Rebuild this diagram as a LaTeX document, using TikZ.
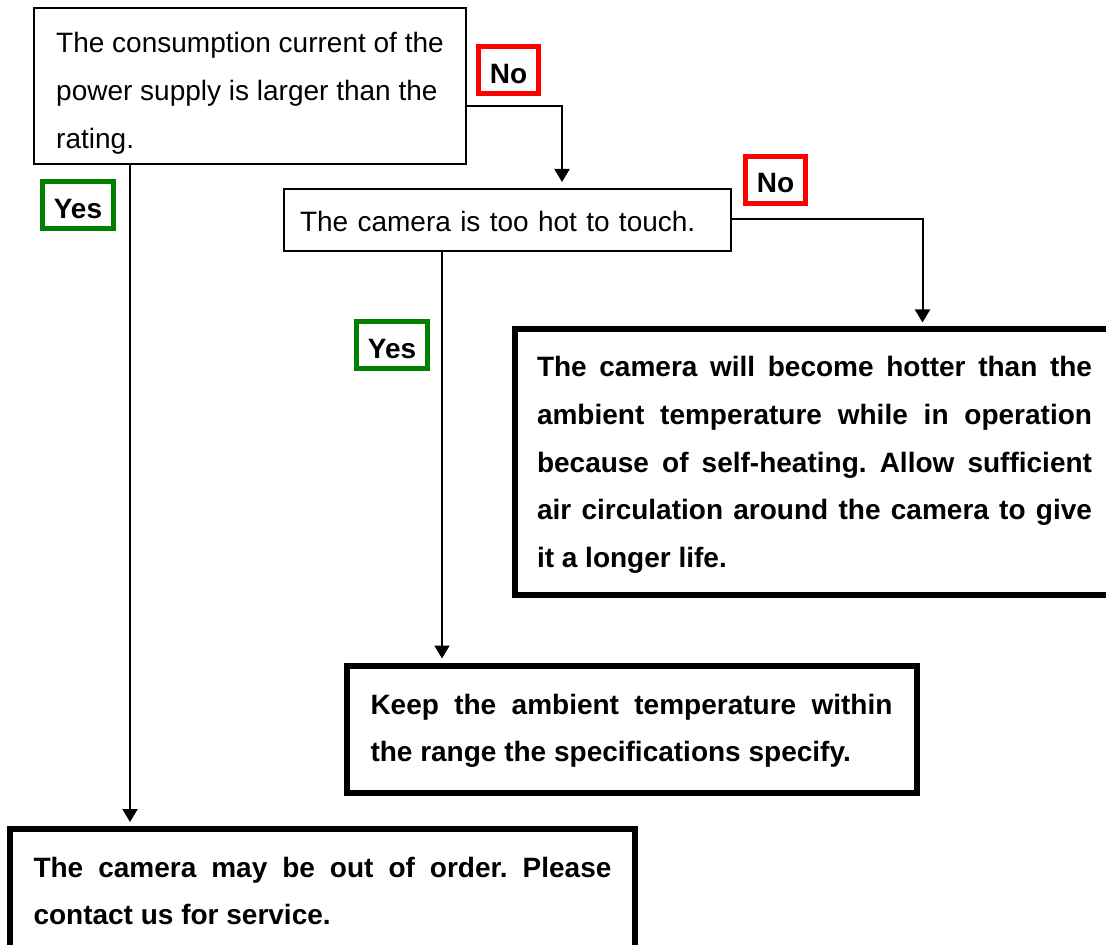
\documentclass[tikz,border=0pt]{standalone}
\usepackage{fontspec}
\setmainfont{Liberation Sans}
\usetikzlibrary{arrows.meta, positioning}

\begin{document}
\begin{tikzpicture}[
    x=0.5pt, y=-0.5pt,
    font=\fontsize{14}{23.8}\selectfont\frenchspacing,
    cond/.style={
        rectangle, draw=black, line width=1pt, anchor=north west,
        align=left, inner ysep=0pt, outer sep=0pt
    },
    advice/.style={
        rectangle, draw=black, line width=3pt, anchor=north west,
        align=justify, inner ysep=0pt, outer sep=0pt,
        font=\fontsize{14}{23.8}\selectfont\frenchspacing\bfseries
    },
    answer/.style={
        rectangle, line width=2.5pt, inner xsep=5.5pt,
        minimum height=23.5pt, text height=13pt, text depth=0pt,
        font=\fontsize{14}{23.8}\selectfont\bfseries
    },
    yesbox/.style={answer, draw=green!50!black},
    nobox/.style={answer, draw=red},
    arrow/.style={line width=1pt, -{Triangle[width=7.5pt, length=6.5pt]}, shorten >=3.5pt}
]
    \useasboundingbox (0,0) rectangle (1106,945);
    \clip (0,0) rectangle (1106,945);
    % Questions
    \node (current) [cond, minimum width=216pt, inner xsep=10pt, text height=70.1pt, text depth=8pt] at (34,8)
        {The consumption current of the\\ power supply is larger than the\\ rating.};
    \node (hot) [cond, text width=207.5pt, inner xsep=8pt, text height=21.5pt, text depth=9.5pt] at (284,189)
        {The camera is too hot to touch.};
    % Answers
    \node (airflow) [advice, text width=277.5pt, inner xsep=11.25pt, text height=23.75pt, text depth=108.95pt] at (514.5,329.5)
        {The camera will become hotter than the\linebreak
         ambient temperature while in operation\linebreak
         because of self-heating. Allow sufficient\linebreak
         air circulation around the camera to give\linebreak
         it a longer life.};
    \node (ambient) [advice, text width=261pt, inner xsep=12pt, text height=24.25pt, text depth=39.3pt] at (346.5,665.5)
        {Keep the ambient temperature within\linebreak
         the range the specifications specify.};
    \node (service) [advice, text width=289pt, inner xsep=11.75pt, text height=24pt, text depth=80pt] at (10,829)
        {The camera may be out of order. Please\linebreak
         contact us for service.};
    % Yes / No marks
    \node (no1) [nobox] at (508.5,70.5) {No};
    \node (no2) [nobox] at (775.5,180) {No};
    \node (yes1) [yesbox] at (78,205.5) {Yes};
    \node (yes2) [yesbox] at (392,345.5) {Yes};
    % Connections
    \draw [arrow] ([yshift=-10pt]current.east) -| ([xshift=27.25pt]hot.north);
    \draw [arrow] ([yshift=0.5pt]hot.east) -| ([xshift=54pt]airflow.north);
    \draw [arrow] ([xshift=-32.75pt]hot.south) -- ([xshift=-32.75pt]hot.south |- ambient.north);
    \draw [arrow] ([xshift=-60pt]current.south) -- ([xshift=-60pt]current.south |- service.north);
\end{tikzpicture}
\end{document}
